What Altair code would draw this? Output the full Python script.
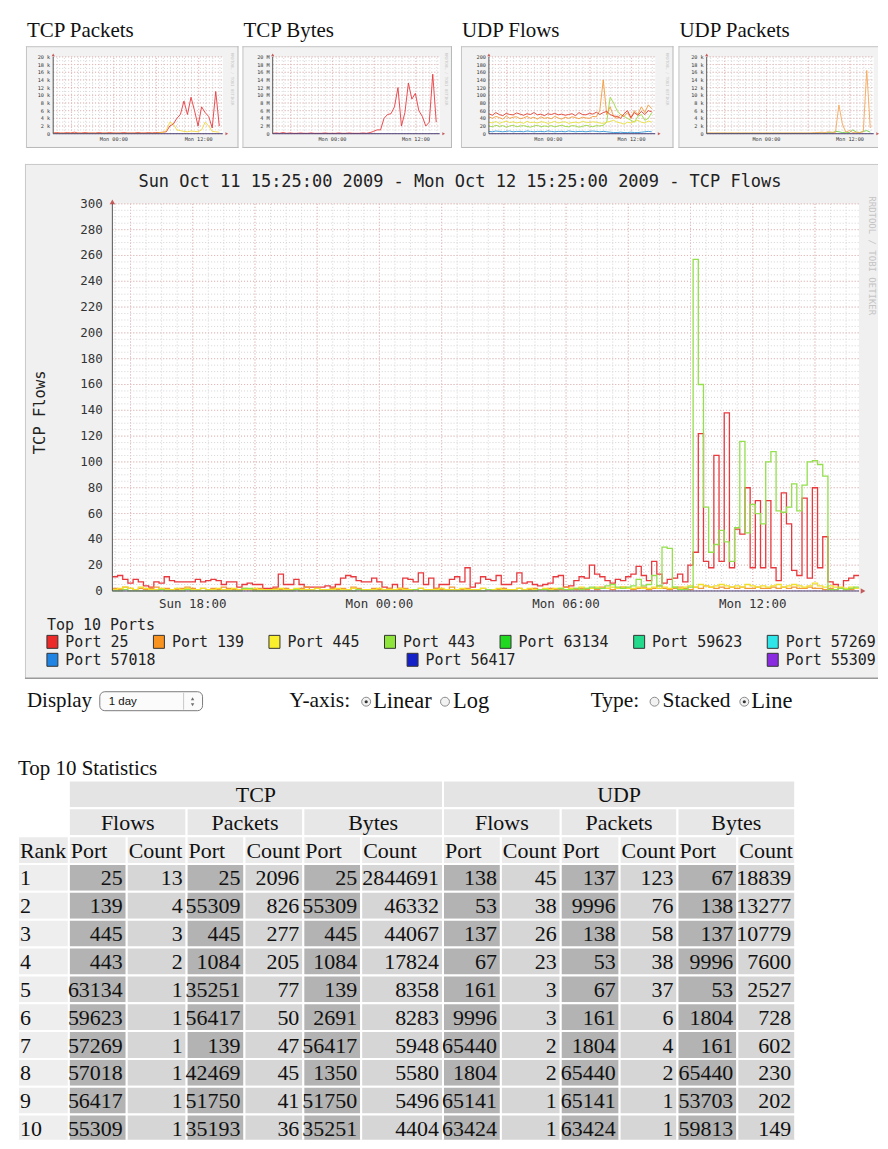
import altair as alt
import pandas as pd

# ---------------- fonts ----------------
MONO = "DejaVu Sans Mono"
SERIF = "Liberation Serif"
SANS = "Liberation Sans"

# ---------------- time frame ----------------
START = pd.Timestamp("2009-10-11 15:25:00")
END = pd.Timestamp("2009-10-12 15:25:00")
FMT = "%Y-%m-%dT%H:%M:%S"

# ---------------- main graph: TCP flows, 10-minute samples ----------------
GRAPH_TITLE = "Sun Oct 11 15:25:00 2009 - Mon Oct 12 15:25:00 2009 - TCP Flows"
Y_TITLE = "TCP Flows"
LEGEND_TITLE = "Top 10 Ports"
SIDE_TEXT = "RRDTOOL / TOBI OETIKER"

PORTS = ["Port 25", "Port 139", "Port 445", "Port 443", "Port 63134",
         "Port 59623", "Port 57269", "Port 57018", "Port 56417", "Port 55309"]
PORT_COLORS = ["#ec2a2a", "#f7931e", "#f9ef2d", "#8ee43a", "#1fd81f",
               "#22d98c", "#2ee6ea", "#1f84e4", "#1420c8", "#8a2be2"]

flows_25 = [11, 12, 9, 6, 9, 7, 4, 3, 7, 6,
            11, 8, 7, 7, 7, 7, 9, 7, 8, 9,
            8, 5, 7, 7, 3, 5, 6, 5, 5, 2,
            2, 3, 13, 5, 5, 9, 5, 3, 3, 3,
            3, 4, 3, 5, 10, 12, 11, 8, 7,
            7, 10, 7, 3, 2, 5, 2, 10, 9, 7,
            14, 5, 10, 2, 5, 5, 9, 11, 7, 18,
            3, 6, 11, 9, 8, 12, 5, 5, 7, 14,
            6, 7, 5, 4, 5, 6, 11, 12, 3, 4,
            8, 11, 10, 20, 13,
            11, 8, 6, 9, 8, 11, 13, 19, 12, 8,
            23, 13, 6, 9, 10, 13, 7, 20, 30, 122,
            23, 18, 105, 23, 138, 18, 48, 44, 80, 18,
            70, 18, 70, 18, 8, 76, 52, 16, 12, 72,
            10, 80, 18, 42, 7, 5, 2, 8, 10, 12]
flows_139 = [2, 1, 3, 2, 1, 2, 1, 2, 3, 1, 2, 1, 1, 2, 3, 2, 1, 2, 1, 2,
             1, 3, 2, 1, 1, 2, 1, 1, 2, 1, 1, 2, 1, 2, 1, 1, 2, 3, 1, 2,
             1, 1, 2, 1, 2, 1, 3, 2, 1, 1, 2, 1, 1, 2, 1, 1, 2, 1, 1, 2,
             1, 1, 2, 1, 1, 3, 1, 1, 2, 1, 1, 2, 1, 1, 1, 2, 1, 1, 2, 1,
             1, 2, 1, 1, 2, 1, 1, 3, 2, 1, 2, 1, 2, 1, 3, 2, 1, 2, 3, 2,
             1, 2, 3, 1, 2, 4, 2, 1, 2, 3, 2, 1, 3, 2, 4, 3, 2, 3, 2, 3,
             2, 3, 2, 2, 3, 2, 2, 3, 2, 3, 2, 3, 2, 2, 3, 2, 2, 1, 2, 1,
             2, 1, 1, 2]
flows_445 = [1, 2, 3, 2, 1, 3, 2, 1, 1, 2, 1, 1, 2, 1, 2, 1, 1, 2, 1, 1,
             2, 1, 1, 2, 1, 1, 1, 2, 1, 1, 1, 1, 2, 1, 1, 2, 1, 1, 1, 2,
             1, 1, 1, 2, 1, 1, 2, 1, 1, 1, 1, 2, 1, 1, 1, 2, 1, 1, 1, 2,
             1, 1, 1, 2, 1, 1, 1, 2, 1, 1, 1, 2, 1, 1, 2, 1, 1, 1, 2, 1,
             2, 1, 1, 2, 1, 2, 2, 1, 2, 2, 3, 2, 2, 3, 2, 2, 3, 2, 3, 2,
             2, 3, 2, 2, 3, 2, 3, 2, 3, 2, 3, 4, 3, 5, 4, 3, 4, 5, 4, 3,
             4, 3, 5, 4, 3, 4, 3, 4, 5, 3, 4, 5, 4, 3, 4, 6, 4, 3, 4, 3,
             3, 2, 3, 2]
flows_443 = [0, 0, 1, 0, 0, 0, 0, 0, 0, 1, 0, 0, 0, 0, 1, 0, 0, 0, 0, 0,
             0, 0, 0, 0, 0, 2, 2, 0, 0, 0, 0, 0, 0, 0, 0, 1, 0, 0, 0, 0,
             0, 0, 0, 0, 0, 0, 0, 1, 0, 0, 0, 0, 0, 0, 0, 0, 0, 0, 1, 0,
             0, 0, 0, 0, 0, 0, 0, 0, 0, 0, 0, 0, 1, 0, 0, 0, 0, 0, 0, 0,
             0, 0, 1, 1, 0, 0, 2, 1, 1, 2,
             1, 2, 3, 2, 2, 4, 5, 3, 2, 3,
             4, 9, 4, 5, 12, 4, 34, 33, 3, 1,
             1, 3, 257, 160, 65, 30, 36, 47, 38, 23,
             49, 116, 45, 67, 60, 52, 100, 108, 62, 61,
             65, 83, 62, 82, 100, 101, 98, 89, 1, 1,
             2, 1, 2, 3]
MAIN_SERIES = [("Port 25", flows_25, "#e8393e"), ("Port 139", flows_139, "#f29a3a"),
               ("Port 445", flows_445, "#f1df2a"), ("Port 443", flows_443, "#93df4c")]

# ---------------- thumbnails: 30-minute samples ----------------
tcpp_red = [0.2, 0.3, 0.2, 0.2, 0.3, 0.2, 0.4, 0.2, 0.2, 0.3, 0.2, 0.2, 0.2, 0.3, 0.2, 0.2,
            0.3, 0.2, 0.2, 0.2, 0.3, 0.2, 0.2, 0.2, 0.3, 0.2, 0.2, 0.3, 0.2, 0.3, 0.3, 0.4,
            0.5, 2, 2.5, 4, 5, 8.5, 5, 9.5, 6, 2, 7, 5.5, 4.5, 1.5, 11, 2]
tcpp_yellow = [0.1, 0.1, 0.1, 0.1, 0.1, 0.1, 0.1, 0.1, 0.1, 0.1, 0.1, 0.1, 0.1, 0.1, 0.1, 0.1,
               0.1, 0.1, 0.1, 0.1, 0.1, 0.1, 0.1, 0.1, 0.1, 0.1, 0.1, 0.1, 0.1, 0.1, 0.2, 0.3,
               0.8, 3, 2.5, 1, 0.8, 0.6, 0.5, 0.7, 0.6, 0.5, 1, 3, 2, 0.6, 0.5, 0.4]
tcpb_red = [0.1, 0.2, 0.1, 0.3, 0.1, 0.2, 0.1, 0.1, 0.2, 0.1, 0.1, 0.2, 0.1, 0.1, 0.1, 0.2,
            0.1, 0.1, 0.1, 0.2, 0.1, 0.1, 0.2, 0.1, 0.1, 0.1, 0.2, 0.1, 0.3, 0.6, 1.0,
            1, 4, 5, 5.2, 7, 12, 2, 5.5, 13.2, 9, 10.5, 6, 4.5, 2, 3, 15.5, 3]
udpf_red = [52, 48, 55, 50, 47, 53, 50, 49, 54, 51, 48, 52, 50, 55, 49, 51, 47, 52, 50, 53,
            49, 51, 48, 50, 52, 47, 55, 50, 49, 53, 51, 56, 50, 55, 58, 50, 46, 45, 40, 52,
            60, 42, 55, 48, 58, 50, 60, 57]
udpf_orange = [44, 40, 45, 42, 38, 46, 40, 43, 44, 39, 41, 45, 40, 43, 38, 44, 40, 42, 39, 45,
               41, 38, 43, 40, 44, 42, 39, 43, 41, 40, 45, 44, 60, 140, 50, 70, 45, 40, 50, 45,
               55, 40, 60, 50, 70, 55, 75, 65]
udpf_yellow = [30, 28, 32, 27, 30, 33, 29, 31, 28, 30, 27, 32, 29, 30, 28, 31, 30, 27, 29, 32,
               28, 30, 31, 27, 29, 30, 28, 32, 30, 29, 31, 30, 28, 27, 30, 32, 35, 30, 28, 25,
               30, 28, 32, 35, 30, 28, 33, 30]
udpf_green = [20, 18, 22, 19, 21, 17, 20, 22, 18, 20, 21, 19, 17, 20, 22, 18, 20, 19, 21, 18,
              20, 22, 19, 18, 21, 20, 17, 19, 22, 20, 18, 21, 20, 22, 30, 95, 80, 60, 50, 45,
              40, 35, 30, 45, 50, 35, 40, 55]
udpf_blue = [6, 5, 7, 6, 5, 6, 7, 5, 6, 6, 5, 7, 6, 5, 6, 6, 5, 7, 6, 5, 6, 6, 5, 7, 6, 5, 6, 6,
             5, 6, 7, 6, 5, 6, 5, 4, 3, 3, 4, 3, 3, 4, 3, 3, 4, 5, 6, 5]
udpp_orange = [0.2, 0.2, 0.2, 0.2, 0.2, 0.2, 0.2, 0.2, 0.2, 0.2, 0.2, 0.2, 0.2, 0.2, 0.2, 0.2,
               0.2, 0.2, 0.2, 0.2, 0.2, 0.2, 0.2, 0.2, 0.2, 0.2, 0.2, 0.2, 0.2, 0.2, 0.2, 0.3,
               0.3, 0.4, 0.3, 0.5, 0.4, 0.3, 7.5, 2.5, 0.4, 0.8, 0.3, 0.4, 0.3, 0.5, 16.5, 1.5]
udpp_green = [0.1, 0.1, 0.1, 0.1, 0.1, 0.1, 0.1, 0.1, 0.1, 0.1, 0.1, 0.1, 0.1, 0.1, 0.1, 0.1,
              0.1, 0.1, 0.1, 0.1, 0.1, 0.1, 0.1, 0.1, 0.1, 0.1, 0.1, 0.1, 0.1, 0.1, 0.1, 0.1,
              0.2, 0.2, 0.1, 0.3, 0.2, 0.6, 0.5, 0.3, 0.4, 0.3, 1.0, 0.4, 0.3, 0.6, 0.8, 0.4]

# ---------------- page texts ----------------
THUMB_TITLES = ["TCP Packets", "TCP Bytes", "UDP Flows", "UDP Packets"]
DISPLAY_LABEL, DISPLAY_VALUE = "Display", "1 day"
YAXIS_LABEL, YAXIS_OPTS = "Y-axis:", ["Linear", "Log"]
TYPE_LABEL, TYPE_OPTS = "Type:", ["Stacked", "Line"]
STATS_TITLE = "Top 10 Statistics"

# ---------------- table data ----------------
ranks = [1, 2, 3, 4, 5, 6, 7, 8, 9, 10]
tcp_flows_port = [25, 139, 445, 443, 63134, 59623, 57269, 57018, 56417, 55309]
tcp_flows_count = [13, 4, 3, 2, 1, 1, 1, 1, 1, 1]
tcp_packets_port = [25, 55309, 445, 1084, 35251, 56417, 139, 42469, 51750, 35193]
tcp_packets_count = [2096, 826, 277, 205, 77, 50, 47, 45, 41, 36]
tcp_bytes_port = [25, 55309, 445, 1084, 139, 2691, 56417, 1350, 51750, 35251]
tcp_bytes_count = [2844691, 46332, 44067, 17824, 8358, 8283, 5948, 5580, 5496, 4404]
udp_flows_port = [138, 53, 137, 67, 161, 9996, 65440, 1804, 65141, 63424]
udp_flows_count = [45, 38, 26, 23, 3, 3, 2, 2, 1, 1]
udp_packets_port = [137, 9996, 138, 53, 67, 161, 1804, 65440, 65141, 63424]
udp_packets_count = [123, 76, 58, 38, 37, 6, 4, 2, 1, 1]
udp_bytes_port = [67, 138, 137, 9996, 53, 1804, 161, 65440, 53703, 59813]
udp_bytes_count = [18839, 13277, 10779, 7600, 2527, 728, 602, 230, 202, 149]

# =====================================================================
DUMMY = pd.DataFrame({"d": [0]})


def series_df(values, minutes, closed=True):
    n = len(values) + (1 if closed else 0)
    ts = pd.date_range(START, periods=n, freq=f"{minutes}min")
    vals = list(values) + ([values[-1]] if closed else [])
    return pd.DataFrame({"t": ts.strftime(FMT), "v": vals})


def vgrid_df(freq, top):
    ts = pd.date_range(START.ceil(freq), END, freq=freq)
    return pd.DataFrame({"t": ts.strftime(FMT), "y0": 0, "y1": top})


def hgrid_df(step, top):
    vals = []
    v = 0
    while v <= top + 1e-9:
        vals.append(v)
        v += step
    return pd.DataFrame({"v": vals, "t0": START.strftime(FMT), "t1": END.strftime(FMT)})


def txt(s, x, y, size, font=SERIF, color="#111", align="left", angle=0, baseline="middle"):
    return alt.Chart(DUMMY).mark_text(text=s, font=font, fontSize=size, color=color, align=align,
                                      baseline=baseline, angle=angle).encode(
        x=alt.value(x), y=alt.value(y))


def box(x0, x1, y0, y1, fill, stroke=None, radius=0):
    kw = dict(fill=fill, cornerRadius=radius)
    if stroke:
        kw.update(stroke=stroke, strokeWidth=1)
    return alt.Chart(DUMMY).mark_rect(**kw).encode(
        x=alt.value(x0), x2=alt.value(x1), y=alt.value(y0), y2=alt.value(y1))


def hrule(x0, x1, y, color, w=1):
    return alt.Chart(DUMMY).mark_rule(color=color, strokeWidth=w).encode(
        x=alt.value(x0), x2=alt.value(x1), y=alt.value(y))


def vrule(x, y0, y1, color, w=1):
    return alt.Chart(DUMMY).mark_rule(color=color, strokeWidth=w).encode(
        x=alt.value(x), y=alt.value(y0), y2=alt.value(y1))


def rrd_plot(xs, ys, top, ystep, yminor, vminor, vmajor, series, lw, label_size,
             ylab_x, ylab_texts, xlab_freq, xlab_y, arrow_size, interp="step-after"):
    """grid + lines + axes + labels of an rrdtool style graph"""
    X = lambda f: alt.X(f, type="temporal", scale=xs, axis=None)
    Y = lambda f: alt.Y(f, type="quantitative", scale=ys, axis=None)
    canvas = pd.DataFrame({"t0": [START.strftime(FMT)], "t1": [END.strftime(FMT)], "y0": [0], "y1": [top]})
    L = []
    L.append(alt.Chart(canvas).mark_rect(fill="white").encode(x=X("t0"), x2="t1", y=Y("y0"), y2="y1"))
    for freq, col in ((vminor, "#d4d4d4"), (vmajor, "#eab4b4")):
        L.append(alt.Chart(vgrid_df(freq, top)).mark_rule(color=col, strokeDash=[1, 2], strokeWidth=1)
                 .encode(x=X("t"), y=Y("y0"), y2="y1"))
    for step, col in ((yminor, "#d4d4d4"), (ystep, "#eab4b4")):
        L.append(alt.Chart(hgrid_df(step, top)).mark_rule(color=col, strokeDash=[1, 2], strokeWidth=1)
                 .encode(y=Y("v"), x=X("t0"), x2="t1"))
    for vals, minutes, color in series:
        L.append(alt.Chart(series_df(vals, minutes, closed=(interp == "step-after"))).mark_line(
            color=color, interpolate=interp, strokeWidth=lw).encode(x=X("t"), y=Y("v")))
    L.append(alt.Chart(canvas).mark_rule(color="#4a3f78", strokeWidth=1).encode(x=X("t0"), x2="t1", y=Y("y0")))
    L.append(alt.Chart(canvas).mark_rule(color="#555555", strokeWidth=1).encode(x=X("t0"), y=Y("y0"), y2="y1"))
    L.append(alt.Chart(canvas).mark_point(shape="triangle-up", filled=True, color="#b01c1c",
                                          size=arrow_size, yOffset=-2).encode(x=X("t0"), y=Y("y1")))
    L.append(alt.Chart(canvas).mark_point(shape="triangle-right", filled=True, color="#b01c1c",
                                          size=arrow_size, xOffset=4).encode(x=X("t1"), y=Y("y0")))
    ylab = pd.DataFrame({"v": [i * ystep for i in range(len(ylab_texts))], "s": ylab_texts})
    L.append(alt.Chart(ylab).mark_text(font=MONO, fontSize=label_size, color="#333", align="right",
                                       baseline="middle").encode(x=alt.value(ylab_x), y=Y("v"), text="s:N"))
    xl = pd.DataFrame({"t": pd.date_range(START.ceil(xlab_freq), END, freq=xlab_freq).strftime(FMT)})
    L.append(alt.Chart(xl).mark_text(font=MONO, fontSize=label_size, color="#333", align="center",
                                     baseline="middle").encode(
        x=X("t"), y=alt.value(xlab_y), text=alt.Text("t:T", format="%a %H:%M")))
    return L


# ---------------- section A: thumbnails (one view, independent scales) ----------------
A_W, A_H = 872, 155
THUMBS = [
    dict(box=(18, 231), plot=(45.3, 215.3), ymax=20, unit="k",
         series=[(tcpp_red, 30, "#e8393e"), (tcpp_yellow, 30, "#f3d840")], right=True),
    dict(box=(235, 445), plot=(265.3, 432.7), ymax=20, unit="M",
         series=[(tcpb_red, 30, "#e8393e")], right=True),
    dict(box=(454, 667), plot=(482, 648.7), ymax=200, unit="",
         series=[(udpf_blue, 30, "#2f95d6"), (udpf_green, 30, "#9ad83e"), (udpf_yellow, 30, "#e6de3a"),
                 (udpf_orange, 30, "#f29a3a"), (udpf_red, 30, "#e23b2b")], right=True),
    dict(box=(672, 872), plot=(700.3, 867.7), ymax=20, unit="k",
         series=[(udpp_green, 30, "#6cc840"), (udpp_orange, 30, "#f5a85a")], right=False),
]
thumb_layers = []
for title, th in zip(THUMB_TITLES, THUMBS):
    bx0, bx1 = th["box"]
    px0, px1 = th["plot"]
    ymax = th["ymax"]
    ystep = ymax / 10
    texts = ["0"] + [f"{int(i * ystep)} {th['unit']}".strip() for i in range(1, 11)]
    xs = alt.Scale(range=[px0, px1], nice=False)
    ys = alt.Scale(domain=[0, ymax], range=[124.7, 47.7], nice=False)
    L = [box(bx0, bx1, 37, 139, "#f2f2f2"),
         hrule(bx0, bx1, 37.5, "#c4c4c4"), hrule(bx0, bx1, 138.5, "#b8b8b8"),
         vrule(bx0 + 0.5, 37, 139, "#c4c4c4")]
    if th["right"]:
        L.append(vrule(bx1 - 0.5, 37, 139, "#b8b8b8"))
        L.append(txt(SIDE_TEXT, bx1 - 6, 70, 4, font=MONO, color="#c8c8c8", align="center", angle=90))
    L += rrd_plot(xs, ys, ymax, ystep, ystep / 2, "1h", "6h", th["series"], 0.9, 5.2,
                  px0 - 3, texts, "12h", 130.5, 10, interp="linear")
    L.append(txt(title, bx0 + 1, 22, 21, font=SERIF, color="#111"))
    thumb_layers.append(alt.layer(*L))
section_a = alt.layer(*thumb_layers).resolve_scale(x="independent", y="independent").properties(
    width=A_W, height=A_H)

# ---------------- section B1: main graph ----------------
B1_H = 448
XS = alt.Scale(range=[104.6, 853], nice=False)
YS = alt.Scale(domain=[0, 300], range=[428, 40], nice=False)
L = [box(17, 872, 0, B1_H, "#f0f0f0"),
     hrule(17, 872, 0.5, "#c8c8c8"), vrule(17.5, 0, B1_H, "#c8c8c8")]
L += rrd_plot(XS, YS, 300, 20, 5, "30min", "2h",
              [(vals, 10, col) for _, vals, col in MAIN_SERIES], 1.3, 12.5,
              95, [str(v) for v in range(0, 301, 20)], "6h", 441, 30)
L.append(txt(GRAPH_TITLE, 453, 18, 17, font=MONO, color="#222", align="center"))
L.append(txt(Y_TITLE, 32, 249, 15.5, font=MONO, color="#222", align="center", angle=270))
L.append(txt(SIDE_TEXT, 866, 92, 9, font=MONO, color="#c4c4c4", align="center", angle=90))
section_b1 = alt.layer(*L).properties(width=872, height=B1_H)

# ---------------- section B2: legend (rrdtool style justified rows) ----------------
B2_H = 70
LEG_LEFT, LEG_RIGHT, CHAR_W, BOX_W, LABEL_DX = 39, 870, 9.05, 11, 18.5
rows = [list(range(0, 7)), list(range(7, 10))]
row_y = [31, 49]
items = []
for ri, idx in enumerate(rows):
    widths = [LABEL_DX + CHAR_W * len(PORTS[i]) for i in idx]
    gap = (LEG_RIGHT - LEG_LEFT - sum(widths)) / (len(idx) - 1)
    x = LEG_LEFT
    for i, w in zip(idx, widths):
        items.append(dict(label=PORTS[i], color=PORT_COLORS[i], x0=x, x1=x + BOX_W, xt=x + LABEL_DX,
                          y0=row_y[ri] - 6.5, y1=row_y[ri] + 6.5, y=row_y[ri]))
        x += w + gap
leg = pd.DataFrame(items)
L = [box(17, 872, 0, 68, "#f0f0f0"), vrule(17.5, 0, 68, "#c8c8c8"), hrule(17, 872, 67.5, "#9a9a9a", 1.5),
     txt(LEGEND_TITLE, LEG_LEFT, 14, 15, font=MONO, color="#222"),
     alt.Chart(leg).mark_rect(stroke="#333", strokeWidth=1).encode(
         x=alt.X("x0:Q", scale=None), x2="x1:Q", y=alt.Y("y0:Q", scale=None), y2="y1:Q",
         color=alt.Color("color:N", scale=None)),
     alt.Chart(leg).mark_text(font=MONO, fontSize=15, color="#222", align="left", baseline="middle").encode(
         x=alt.X("xt:Q", scale=None), y=alt.Y("y:Q", scale=None), text="label:N")]
section_b2 = alt.layer(*L).properties(width=872, height=B2_H)

# ---------------- section C: display controls ----------------
C_H = 69
CY = 20


def radio(x, checked):
    out = [alt.Chart(DUMMY).mark_point(shape="circle", filled=True, fill="#f2f2f2", stroke="#8a8a8a",
                                       strokeWidth=1, size=80, opacity=1).encode(x=alt.value(x), y=alt.value(CY + 1))]
    if checked:
        out.append(alt.Chart(DUMMY).mark_point(shape="circle", filled=True, color="#333", size=10,
                                               opacity=1).encode(x=alt.value(x), y=alt.value(CY + 1)))
    return out


L = [txt(DISPLAY_LABEL, 19, CY, 21),
     box(92, 195, 11, 30, "#fbfbfb", stroke="#7a7a7a", radius=5),
     vrule(176, 12, 29, "#c8c8c8"),
     txt(DISPLAY_VALUE, 101, CY + 1, 11.5, font=SANS, color="#111"),
     alt.Chart(DUMMY).mark_point(shape="triangle-up", filled=True, color="#333", size=12).encode(
         x=alt.value(185), y=alt.value(CY - 2)),
     alt.Chart(DUMMY).mark_point(shape="triangle-down", filled=True, color="#333", size=12).encode(
         x=alt.value(185), y=alt.value(CY + 4)),
     txt(YAXIS_LABEL, 282, CY, 21.5)]
L += radio(359, True)
L.append(txt(YAXIS_OPTS[0], 366, CY, 22.5))
L += radio(438, False)
L.append(txt(YAXIS_OPTS[1], 446, CY, 22.5))
L.append(txt(TYPE_LABEL, 584, CY, 21.5))
L += radio(648, False)
L.append(txt(TYPE_OPTS[0], 656, CY, 21.5))
L += radio(738, True)
L.append(txt(TYPE_OPTS[1], 745, CY, 22.5))
section_c = alt.layer(*L).properties(width=872, height=C_H)

# ---------------- section D: statistics table ----------------
D_H = 391
COL_W = [51, 58, 60, 58, 59, 58, 82, 58, 60, 59, 58, 60, 58]
ROW_H = 27.9
edges = [0]
for w in COL_W:
    edges.append(edges[-1] + w)
cells = []


def cell(c0, c1, r, fill, text, align):
    x0, x1 = edges[c0], edges[c1]
    tx = x0 + 2 if align == "left" else (x1 - 4 if align == "right" else (x0 + x1) / 2)
    cells.append(dict(x0=x0, x1=x1, r0=r, r1=r + 1, rc=r + 0.52, fill=fill, text=str(text),
                      align=align, tx=tx))


HEAD1, HEAD2, HEAD3 = "#e4e4e4", "#e7e7e7", "#ebebeb"
RANK_BG, PORT_BG, COUNT_BG = "#eeeeee", "#b3b3b3", "#d6d6d6"
cell(1, 7, 0, HEAD1, "TCP", "center")
cell(7, 13, 0, HEAD1, "UDP", "center")
for g, name in enumerate(["Flows", "Packets", "Bytes", "Flows", "Packets", "Bytes"]):
    cell(1 + 2 * g, 3 + 2 * g, 1, HEAD2, name, "center")
cell(0, 1, 2, HEAD3, "Rank", "left")
for c in range(1, 13):
    cell(c, c + 1, 2, HEAD3, "Port" if c % 2 == 1 else "Count", "left")
columns = [tcp_flows_port, tcp_flows_count, tcp_packets_port, tcp_packets_count, tcp_bytes_port,
           tcp_bytes_count, udp_flows_port, udp_flows_count, udp_packets_port, udp_packets_count,
           udp_bytes_port, udp_bytes_count]
for i, rk in enumerate(ranks):
    r = 3 + i
    cell(0, 1, r, RANK_BG, rk, "left")
    for c, col in enumerate(columns, start=1):
        cell(c, c + 1, r, PORT_BG if c % 2 == 1 else COUNT_BG, col[i], "right")
tab = pd.DataFrame(cells)
TW = edges[-1]
TX = alt.Scale(domain=[0, TW], range=[10, 10 + TW])
TY = alt.Scale(domain=[0, 13], range=[31, 31 + 13 * ROW_H])
L = [txt(STATS_TITLE, 10, 19, 21),
     alt.Chart(tab).mark_rect(stroke="white", strokeWidth=2, clip=True).encode(
         x=alt.X("x0:Q", scale=TX, axis=None), x2="x1:Q",
         y=alt.Y("r0:Q", scale=TY, axis=None), y2="r1:Q",
         color=alt.Color("fill:N", scale=None))]
for al in ("left", "right", "center"):
    L.append(alt.Chart(tab[tab["align"] == al]).mark_text(
        font=SERIF, fontSize=22, color="#111", align=al, baseline="middle", clip=True).encode(
        x=alt.X("tx:Q", scale=TX, axis=None), y=alt.Y("rc:Q", scale=TY, axis=None), text="text:N"))
section_d = alt.layer(*L).properties(width=872, height=D_H)

chart = alt.vconcat(section_a, section_b1, section_b2, section_c, section_d,
                    spacing=0, bounds="flush", padding=0).configure_view(stroke=None)

chart.save("out.html", embed_options={"renderer": "svg", "actions": False})
